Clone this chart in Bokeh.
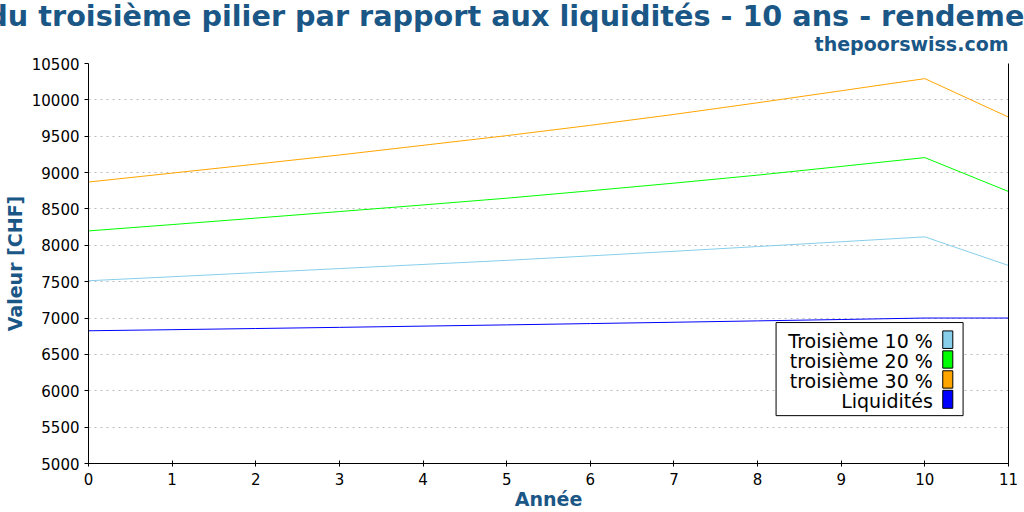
from bokeh.plotting import figure
from bokeh.models import Range1d, SingleIntervalTicker, LinearAxis, FixedTicker, Title
from bokeh.core.properties import value
from bokeh.embed import file_html
from bokeh.resources import INLINE

# ---- data ----
annees = list(range(12))
troisieme_10 = [7513, 7568, 7624, 7680, 7737, 7793, 7855, 7918, 7983, 8049, 8116, 7723]
troisieme_20 = [8198, 8285, 8374, 8464, 8555, 8648, 8750, 8855, 8965, 9085, 9206, 8740]
troisieme_30 = [8870, 8993, 9116, 9242, 9375, 9508, 9650, 9800, 9960, 10125, 10292, 9763]
liquidites = [6825, 6840, 6856, 6872, 6889, 6906, 6924, 6942, 6961, 6980, 7000, 7000]

series_names = ["Troisième 10 %", "troisième 20 %", "troisième 30 %", "Liquidités"]
series_values = [troisieme_10, troisieme_20, troisieme_30, liquidites]
series_colors = ["#87ceeb", "#00ff00", "#ffa500", "#0000ff"]

titre = "Valeur du troisième pilier par rapport aux liquidités - 10 ans - rendement"
sous_titre = "thepoorswiss.com"
label_x = "Année"
label_y = "Valeur [CHF]"

FONT = "DejaVu Sans"
BLUE = "#1a5786"

p = figure(width=1024, height=512, output_backend="svg", toolbar_location=None,
           x_range=Range1d(0, 11), y_range=Range1d(5000, 10500), title=None,
           min_border_left=88, min_border_right=16, min_border_top=63, min_border_bottom=48)
p.outline_line_color = None
p.background_fill_color = "white"
p.border_fill_color = "white"

p.xaxis.ticker = SingleIntervalTicker(interval=1)
p.yaxis.ticker = SingleIntervalTicker(interval=500)
p.xgrid.grid_line_color = None
p.ygrid.grid_line_color = "#bbbbbb"
p.ygrid.grid_line_dash = "2 4"
p.ygrid.grid_line_width = 1

for ax in (p.xaxis[0], p.yaxis[0]):
    ax.axis_line_color = "black"
    ax.major_tick_line_color = "black"
    ax.minor_tick_line_color = None
    ax.major_label_text_font = FONT
    ax.major_label_text_font_size = "15px"
    ax.major_label_text_color = "black"
    ax.major_label_standoff = 5
    ax.axis_label_text_font = FONT
    ax.axis_label_text_font_size = "19px"
    ax.axis_label_text_font_style = "bold"
    ax.axis_label_text_color = BLUE
p.xaxis.major_tick_in = 3
p.xaxis.major_tick_out = 3
p.yaxis.major_tick_in = 0
p.yaxis.major_tick_out = 4
p.xaxis.axis_label = label_x
p.yaxis.axis_label = label_y
p.xaxis.axis_label_standoff = 0
p.yaxis.axis_label_standoff = 3

right = LinearAxis(ticker=FixedTicker(ticks=[]), axis_line_color="black",
                   major_tick_line_color=None, minor_tick_line_color=None,
                   major_label_text_font_size="0px", major_label_standoff=0,
                   major_tick_out=0, major_tick_in=0)
p.add_layout(right, "right")

for vals, col in zip(series_values, series_colors):
    p.line(annees, vals, line_color=col, line_width=1)

# ---- custom legend (swatches on the right of the labels) ----
leg_box = dict(left=8.221, right=10.457, top=6938, bottom=5658)
leg_sw_left, leg_sw_right = 10.214, 10.334
leg_sw_tops = [6823, 6549, 6275, 6006]
leg_sw_bottoms = [6582, 6311, 6036, 5759]
leg_text_x = 10.095
leg_text_y = [6684, 6410, 6136, 5866]

p.quad(left=[leg_box["left"]], right=[leg_box["right"]], top=[leg_box["top"]],
       bottom=[leg_box["bottom"]], fill_color="white", line_color="black", line_width=1)
p.quad(left=[leg_sw_left] * 4, right=[leg_sw_right] * 4, top=leg_sw_tops,
       bottom=leg_sw_bottoms, fill_color=series_colors, line_color="black", line_width=1)
p.text(x=[leg_text_x] * 4, y=leg_text_y, text=series_names, text_align="right",
       text_baseline="alphabetic", text_font=value(FONT), text_font_size="19px",
       text_color="black")

# ---- titles (first added sits closest to the plot) ----
p.add_layout(Title(text=sous_titre, align="right", text_font=FONT, text_font_size="19px",
                   text_font_style="bold", text_color=BLUE, standoff=17), "above")
p.add_layout(Title(text=titre, align="left", offset=-215, text_font=FONT,
                   text_font_size="28.7px", text_font_style="bold", text_color=BLUE,
                   standoff=-21), "above")

open("out.html", "w").write(file_html(p, INLINE))
